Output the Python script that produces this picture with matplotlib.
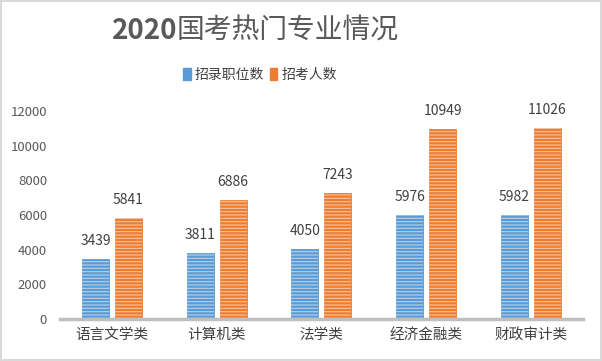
import numpy as np
import matplotlib.pyplot as plt

plt.rcParams['font.family'] = ['Noto Sans CJK SC', 'DejaVu Sans']
plt.rcParams['hatch.linewidth'] = 0.8

categories = ["语言文学类", "计算机类", "法学类", "经济金融类", "财政审计类"]
positions = [3439, 3811, 4050, 5976, 5982]
applicants = [5841, 6886, 7243, 10949, 11026]
series_names = ["招录职位数", "招考人数"]
colors = ["#5B9BD5", "#ED7D31"]

fig = plt.figure(figsize=(6.02, 3.61), dpi=100)
fig.patch.set_edgecolor("#d9d9d9")
fig.patch.set_linewidth(1.5)
ax = fig.add_axes([0.099, 0.116, 0.870, 0.577])

x = np.arange(len(categories))
w = 0.258
off = (w + 0.057) / 2
for vals, dx, c, name in [(positions, -off, colors[0], series_names[0]),
                          (applicants, off, colors[1], series_names[1])]:
    ax.bar(x + dx, vals, w, color=c, edgecolor=c, linewidth=0.6, label=name)
    ax.bar(x + dx, vals, w, fill=False, hatch="-----", edgecolor=(1, 1, 1, 0.55), linewidth=0)
    for xi, v in zip(x + dx, vals):
        ax.annotate(str(v), (xi, v), xytext=(0, 13), textcoords="offset points",
                    ha="center", va="center", fontsize=10, color="#404040")

ax.set_xlim(-0.5, len(categories) - 0.5)
ax.set_ylim(0, 12000)
ax.set_yticks(range(0, 12001, 2000))
ax.set_xticks(x)
ax.set_xticklabels(categories, fontsize=10.5, color="#404040")
ax.tick_params(axis="y", labelsize=9.5, labelcolor="#595959", length=0, pad=9)
ax.tick_params(axis="x", length=0, pad=6)
for s in ["top", "right", "left"]:
    ax.spines[s].set_visible(False)
ax.spines["bottom"].set_color("#bfbfbf")
ax.spines["bottom"].set_linewidth(2.5)

# title: bold year, lighter Chinese text
fig.text(0.294, 0.915, "2020", ha="right", va="center",
         fontsize=20, color="#595959", fontweight="bold")
fig.text(0.294, 0.915, "国考热门专业情况", ha="left", va="center",
         fontsize=20, color="#595959", fontweight="normal")
handles = [plt.Rectangle((0, 0), 1, 1, color=c) for c in colors]
fig.legend(handles, series_names, loc="center", bbox_to_anchor=(0.432, 0.793), ncol=2,
           frameon=False, fontsize=10, handlelength=0.55, handleheight=0.9,
           handletextpad=0.3, columnspacing=0.4, labelcolor="#404040")

fig.savefig("out.png", dpi=100)
